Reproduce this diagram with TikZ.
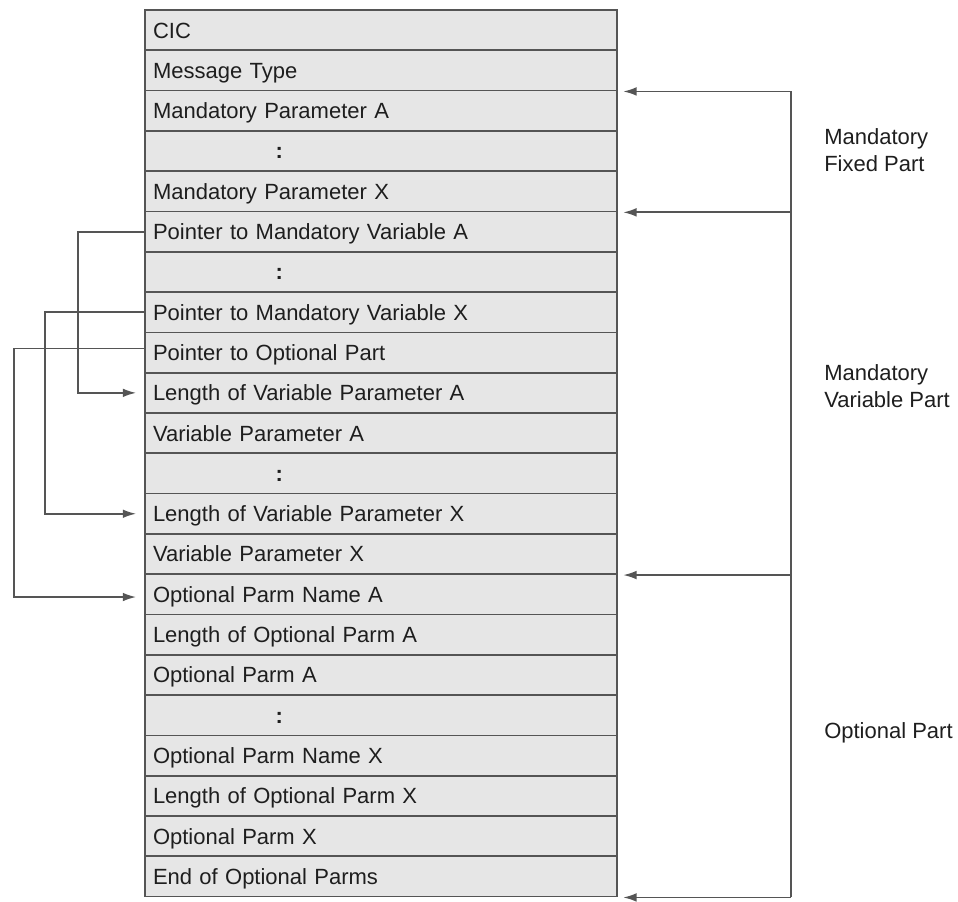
\documentclass[tikz,border=0pt]{standalone}
\usepackage{fontspec}
\setmainfont{Liberation Sans}
\usetikzlibrary{arrows.meta,positioning,calc}
\definecolor{linea}{HTML}{555555}
\definecolor{celda}{HTML}{E6E6E6}
\definecolor{tinta}{HTML}{1E1E1E}
\newcommand{\puntos}{\hspace*{92pt}\textbf{:}}

\begin{document}
\begin{tikzpicture}[x=0.75pt,y=-0.75pt,>={Latex[length=10pt,width=6.5pt]},
    campo/.style={draw=linea,fill=celda,line width=1.3pt,minimum width=354pt,
                  minimum height=30.2pt,text width=342pt,inner xsep=6pt,inner ysep=0pt,
                  text height=11.8pt,text depth=0pt,
                  align=left,text=tinta,font=\fontsize{16.5}{19}\selectfont},
    enlace/.style={draw=linea,line width=1.3pt},
    etiqueta/.style={anchor=west,inner sep=0pt,align=left,text=tinta,
                     font=\fontsize{16.5}{20}\selectfont}]
    \useasboundingbox (0,0) rectangle (958,901);
    % --- campos del mensaje ---
    \foreach \i/\t in {0/CIC,1/Message Type,2/Mandatory Parameter A,3/\puntos,
        4/Mandatory Parameter X,5/Pointer to Mandatory Variable A,6/\puntos,
        7/Pointer to Mandatory Variable X,8/Pointer to Optional Part,
        9/Length of Variable Parameter A,10/Variable Parameter A,11/\puntos,
        12/Length of Variable Parameter X,13/Variable Parameter X,
        14/Optional Parm Name A,15/Length of Optional Parm A,16/Optional Parm A,
        17/\puntos,18/Optional Parm Name X,19/Length of Optional Parm X,
        20/Optional Parm X,21/End of Optional Parms}{
      \node[campo] (r\i) at (381,{30.15+40.3*\i}) {\t};
    }
    % --- llave derecha (partes) ---
    \coordinate (brk) at (791,0);
    \draw[enlace] (r1.south east -| brk) -- (r21.south east -| brk);
    \foreach \k in {1,4,13,21}{
      \draw[enlace,->] (r\k.south east -| brk) -- ([xshift=4pt]r\k.south east);
    }
    \node[etiqueta] (lblFixed) at (824,150) {Mandatory\\Fixed Part};
    \node[etiqueta] (lblVar) at (824,386) {Mandatory\\Variable Part};
    \node[etiqueta] (lblOpt) at (824,733) {Optional Part};
    % --- punteros a la izquierda ---
    \coordinate (l1) at (78,0);
    \coordinate (l2) at (45,0);
    \coordinate (l3) at (14,0);
    \draw[enlace,->] (r5.west) -- (r5.west -| l1) |- ([xshift=-6pt]r9.west);
    \draw[enlace,->] (r7.west) -- (r7.west -| l2) |- ([xshift=-6pt]r12.west);
    \draw[enlace,->] ([yshift=3pt]r8.west) -- ([yshift=3pt]r8.west -| l3)
        |- ([xshift=-6pt,yshift=-2pt]r14.west);
\end{tikzpicture}
\end{document}
